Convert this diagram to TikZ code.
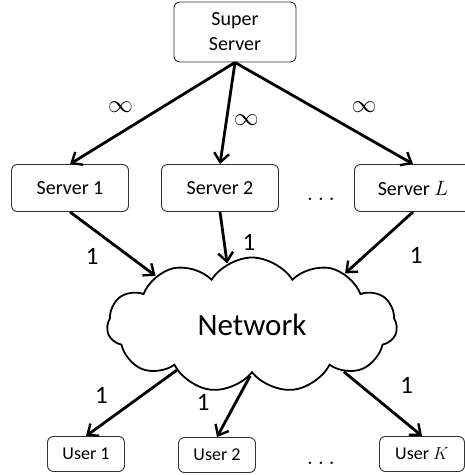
\documentclass[tikz,border=0pt]{standalone}
\usepackage{fontspec}
\setmainfont{Carlito}
\usetikzlibrary{arrows.meta,shapes.symbols}

\tikzstyle{server} = [rectangle, rounded corners=6pt, draw=black!80, line width=0.9pt,
  text centered, minimum width=117pt, minimum height=47pt,
  font=\fontsize{20}{25}\selectfont]
\tikzstyle{user} = [server, minimum width=77pt, minimum height=35pt,
  font=\fontsize{18}{22}\selectfont]
\tikzstyle{link} = [line width=2.8pt, -{Straight Barb[length=9pt,width=15pt,line width=2.4pt]}]
\tikzstyle{lbl} = [inner sep=0pt, font=\fontsize{25}{25}\selectfont]
\tikzstyle{dotsn} = [font=\fontsize{23}{23}\selectfont]

\begin{document}
\begin{tikzpicture}[x=1pt, y=1pt]
      \useasboundingbox (0,0) rectangle (465,475);
      % top
      \node[server, minimum width=122pt, minimum height=60pt, align=center]
        (super) at (235,443) {Super\\Server};
      % servers
      \node[server] (server1) at (70,287) {Server 1};
      \node[server] (server2) at (220,287) {Server 2};
      \node[server] (serverL) at (413,287) {Server $L$};
      \node[dotsn] (sdots) at (321,276) {$\ldots$};
      % network
      \node[cloud, draw, line width=1.8pt, cloud puffs=11, cloud puff arc=115,
        aspect=2.1, minimum width=290pt, minimum height=135pt,
        font=\fontsize{31}{31}\selectfont] (net) at (252,150) {Network};
      % users
      \node[user] (user1) at (86,21) {User 1};
      \node[user] (user2) at (217,20) {User 2};
      \node[user, minimum width=85pt] (userK) at (422,21) {User $K$};
      \node[dotsn] (udots) at (321,12) {$\ldots$};

      \draw[link] (super.south) -- (server1.north)
        node[lbl, pos=.44, left=28pt] {$\infty$};
      \draw[link] (super.south) -- (server2.north)
        node[lbl, pos=.57, right=6pt] {$\infty$};
      \draw[link] (super.south) -- (serverL.north)
        node[lbl, pos=.44, right=37pt] {$\infty$};

      \draw[link] (server1.south) -- (net.153)
        node[lbl, pos=.69, left=29pt] {1};
      \draw[link] (server2.south) -- (net.112)
        node[lbl, pos=.6, right=17pt] {1};
      \draw[link] (serverL.south) -- (net.29)
        node[lbl, pos=.7, right=43pt] {1};

      \draw[link] (net.211) -- (user1.north)
        node[lbl, pos=.38, left=33pt] {1};
      \draw[link] (net.268) -- (user2.north)
        node[lbl, pos=.43, left=25pt] {1};
      \draw[link] (net.333) -- (userK.north)
        node[lbl, pos=.22, right=38pt] {1};
    \end{tikzpicture}
\end{document}
